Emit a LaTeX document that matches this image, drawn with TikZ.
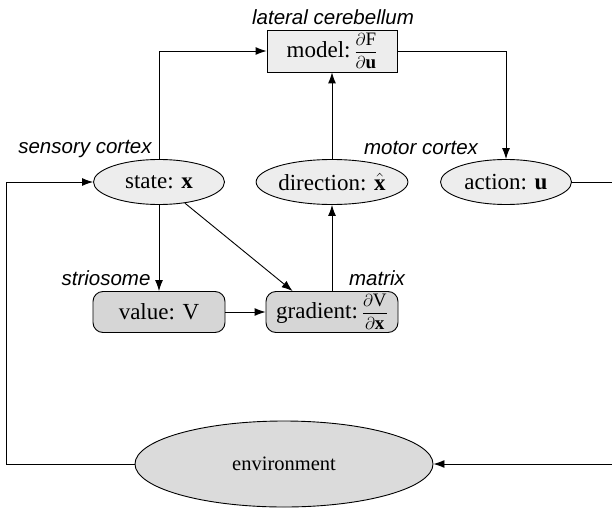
\documentclass[tikz,border=0pt]{standalone}
\usepackage{amsmath}
\usepackage{fontspec}
\setmainfont{Liberation Serif}
\newfontfamily\labelfont{Liberation Sans}
\usetikzlibrary{shapes.geometric,arrows.meta}
\newcommand{\pfrac}[2]{{\fontsize{19}{22}\selectfont$\dfrac{#1}{#2}$}}
\begin{document}
\begin{tikzpicture}[x=1pt,y=-1pt,
  font=\fontsize{23}{26}\selectfont,
  line width=0.9pt,
  arr/.style={-{Latex[length=11pt,width=8pt]}},
  lightbox/.style={draw, fill=black!7, inner sep=0pt, minimum width=130pt, minimum height=42pt},
  area/.style={draw, ellipse, fill=black!7, inner sep=0pt, minimum width=131pt, minimum height=45pt},
  basal/.style={draw, fill=black!16, rounded corners=10pt, inner sep=0pt, minimum width=132pt, minimum height=41pt},
  region/.style={font=\labelfont\itshape\fontsize{20.5}{24}\selectfont, inner sep=0pt}]
\useasboundingbox (0,0) rectangle (612,508);

% processing stages
\node[lightbox] (model) at (332,51) {model:\,\pfrac{\partial \mathrm{F}}{\partial \mathbf{u}}};
\node[area] (state) at (159,182) {state: $\mathbf{x}$};
\node[area] (direction) at (332,182) {direction: $\hat{\mathbf{x}}$};
\node[area] (action) at (506,182) {action: $\mathbf{u}$};
\node[basal] (value) at (159,312) {value: $\mathrm{V}$};
\node[basal] (gradient) at (332,312) {gradient:\,\pfrac{\partial \mathrm{V}}{\partial \mathbf{x}}};
\node[draw, ellipse, fill=black!14, inner sep=0pt, minimum width=298pt, minimum height=86pt,
      font=\fontsize{20.5}{24}\selectfont] (env) at (284,464) {environment};

% brain-region labels
\node[region] (lcb) at (333,17) {lateral cerebellum};
\node[region] (sens) at (85,149) {sensory cortex};
\node[region] (mot) at (421,148) {motor cortex};
\node[region] (strio) at (106,278) {striosome};
\node[region] (matr) at (377,278) {matrix};

% turning points of the outer loop
\coordinate (rtop) at (616,182);
\coordinate (rbot) at (616,464);
\coordinate (ltop) at (6,182);
\coordinate (lbot) at (6,464);

% connections
\draw[arr] (state.north) |- (model.west);
\draw[arr] (model.east) -| (action.north);
\draw[arr] (direction.north) -- (model.south);
\draw[arr] (gradient.north) -- (direction.south);
\draw[arr] (state.south) -- (value.north);
\draw[arr] (value.east) -- (gradient.west);
\draw[arr] (state) -- (gradient.152);
\draw (action.east) -- (rtop) -- (rbot);
\draw[arr] (rbot) -- (env.east);
\draw[arr] (env.west) -- (lbot) -- (ltop) -- (state.west);
\end{tikzpicture}
\end{document}
